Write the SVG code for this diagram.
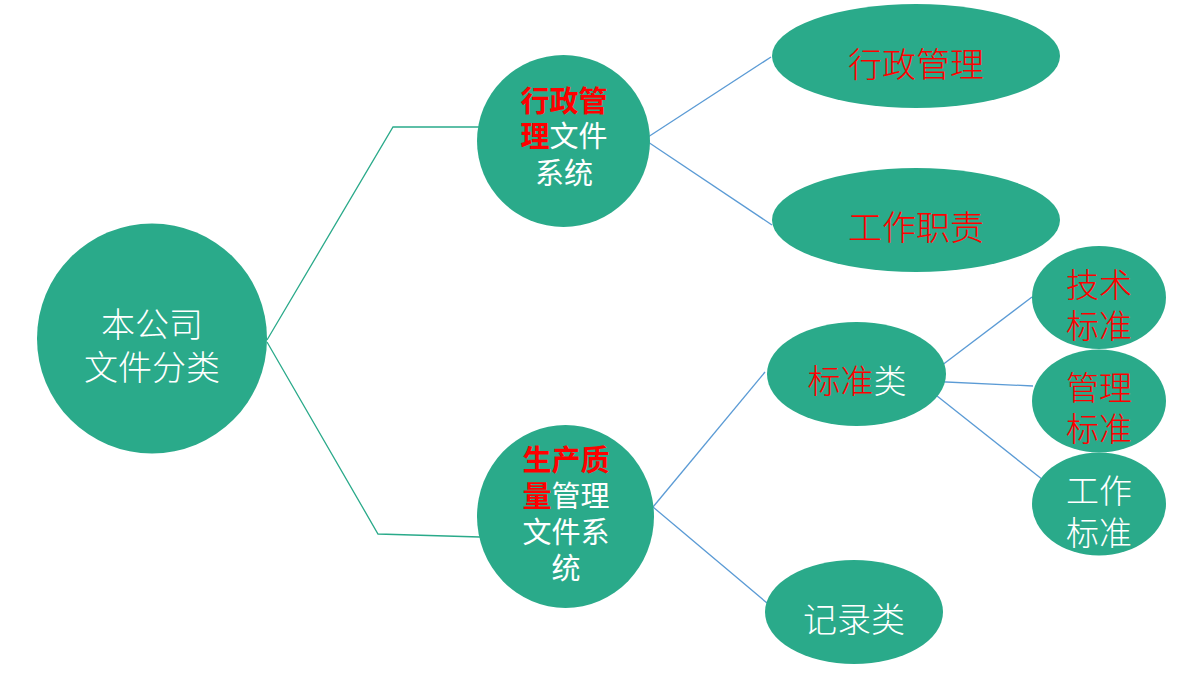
<svg xmlns="http://www.w3.org/2000/svg" width="1200" height="675" viewBox="0 0 1200 675">
<style>
.n{fill:#2AAA8A}
.t{font-family:"Noto Sans CJK SC","Noto Sans CJK TC",sans-serif;text-anchor:middle;fill:#FFFFFF}
.l{font-weight:300}
.r{fill:#FF0000}
.b{font-weight:700}
.g{fill:none;stroke:#2AAA8A;stroke-width:1.3}
.u{fill:none;stroke:#5B9BD5;stroke-width:1.3}
</style>
<rect width="1200" height="675" fill="#FFFFFF"/>
<g id="connectors">
<polyline class="g" points="267,340 393,127 479,127"/>
<polyline class="g" points="267,342 378,534 480,537"/>
<line class="u" x1="648" y1="137" x2="771" y2="57"/>
<line class="u" x1="648" y1="142" x2="772" y2="225"/>
<line class="u" x1="653" y1="507" x2="765" y2="372"/>
<line class="u" x1="653" y1="507" x2="767" y2="603"/>
<line class="u" x1="933" y1="372" x2="1032" y2="297"/>
<line class="u" x1="925" y1="381" x2="1033" y2="386"/>
<line class="u" x1="932" y1="392" x2="1043" y2="480"/>
</g>
<g id="root">
<circle class="n" cx="152" cy="338.5" r="115"/>
<text class="t l" font-size="34" x="152" y="337">本公司</text>
<text class="t l" font-size="34" x="152" y="380">文件分类</text>
</g>
<g id="admin-system">
<ellipse class="n" cx="563.5" cy="141" rx="86.5" ry="86"/>
<text class="t" font-size="29" x="564" y="112"><tspan class="r b">行政管</tspan></text>
<text class="t" font-size="29" x="564" y="147"><tspan class="r b">理</tspan>文件</text>
<text class="t" font-size="29" x="564" y="184">系统</text>
</g>
<g id="production-system">
<ellipse class="n" cx="565.5" cy="516.5" rx="88.5" ry="91.5"/>
<text class="t" font-size="29" x="566" y="471"><tspan class="r b">生产质</tspan></text>
<text class="t" font-size="29" x="566" y="507"><tspan class="r b">量</tspan>管理</text>
<text class="t" font-size="29" x="566" y="543">文件系</text>
<text class="t" font-size="29" x="566" y="579">统</text>
</g>
<g id="admin-management">
<ellipse class="n" cx="916" cy="56" rx="144" ry="52"/>
<text class="t l r" font-size="34" x="916" y="77">行政管理</text>
</g>
<g id="job-duties">
<ellipse class="n" cx="916" cy="220" rx="144" ry="52"/>
<text class="t l r" font-size="34" x="916" y="240">工作职责</text>
</g>
<g id="standards">
<ellipse class="n" cx="856.5" cy="374" rx="89.5" ry="52"/>
<text class="t l" font-size="33" x="857" y="393"><tspan class="r">标准</tspan>类</text>
</g>
<g id="records">
<ellipse class="n" cx="854" cy="612" rx="89" ry="52"/>
<text class="t l" font-size="34" x="854" y="632">记录类</text>
</g>
<g id="tech-standard">
<ellipse class="n" cx="1099" cy="297.5" rx="67" ry="51.5"/>
<text class="t l r" font-size="33" x="1099" y="297">技术</text>
<text class="t l r" font-size="33" x="1099" y="338">标准</text>
</g>
<g id="mgmt-standard">
<ellipse class="n" cx="1099" cy="401" rx="67" ry="51.5"/>
<text class="t l r" font-size="33" x="1099" y="400">管理</text>
<text class="t l r" font-size="33" x="1099" y="441">标准</text>
</g>
<g id="work-standard">
<ellipse class="n" cx="1099" cy="504" rx="67" ry="51.5"/>
<text class="t l" font-size="33" x="1099" y="503">工作</text>
<text class="t l" font-size="33" x="1099" y="545">标准</text>
</g>
</svg>
